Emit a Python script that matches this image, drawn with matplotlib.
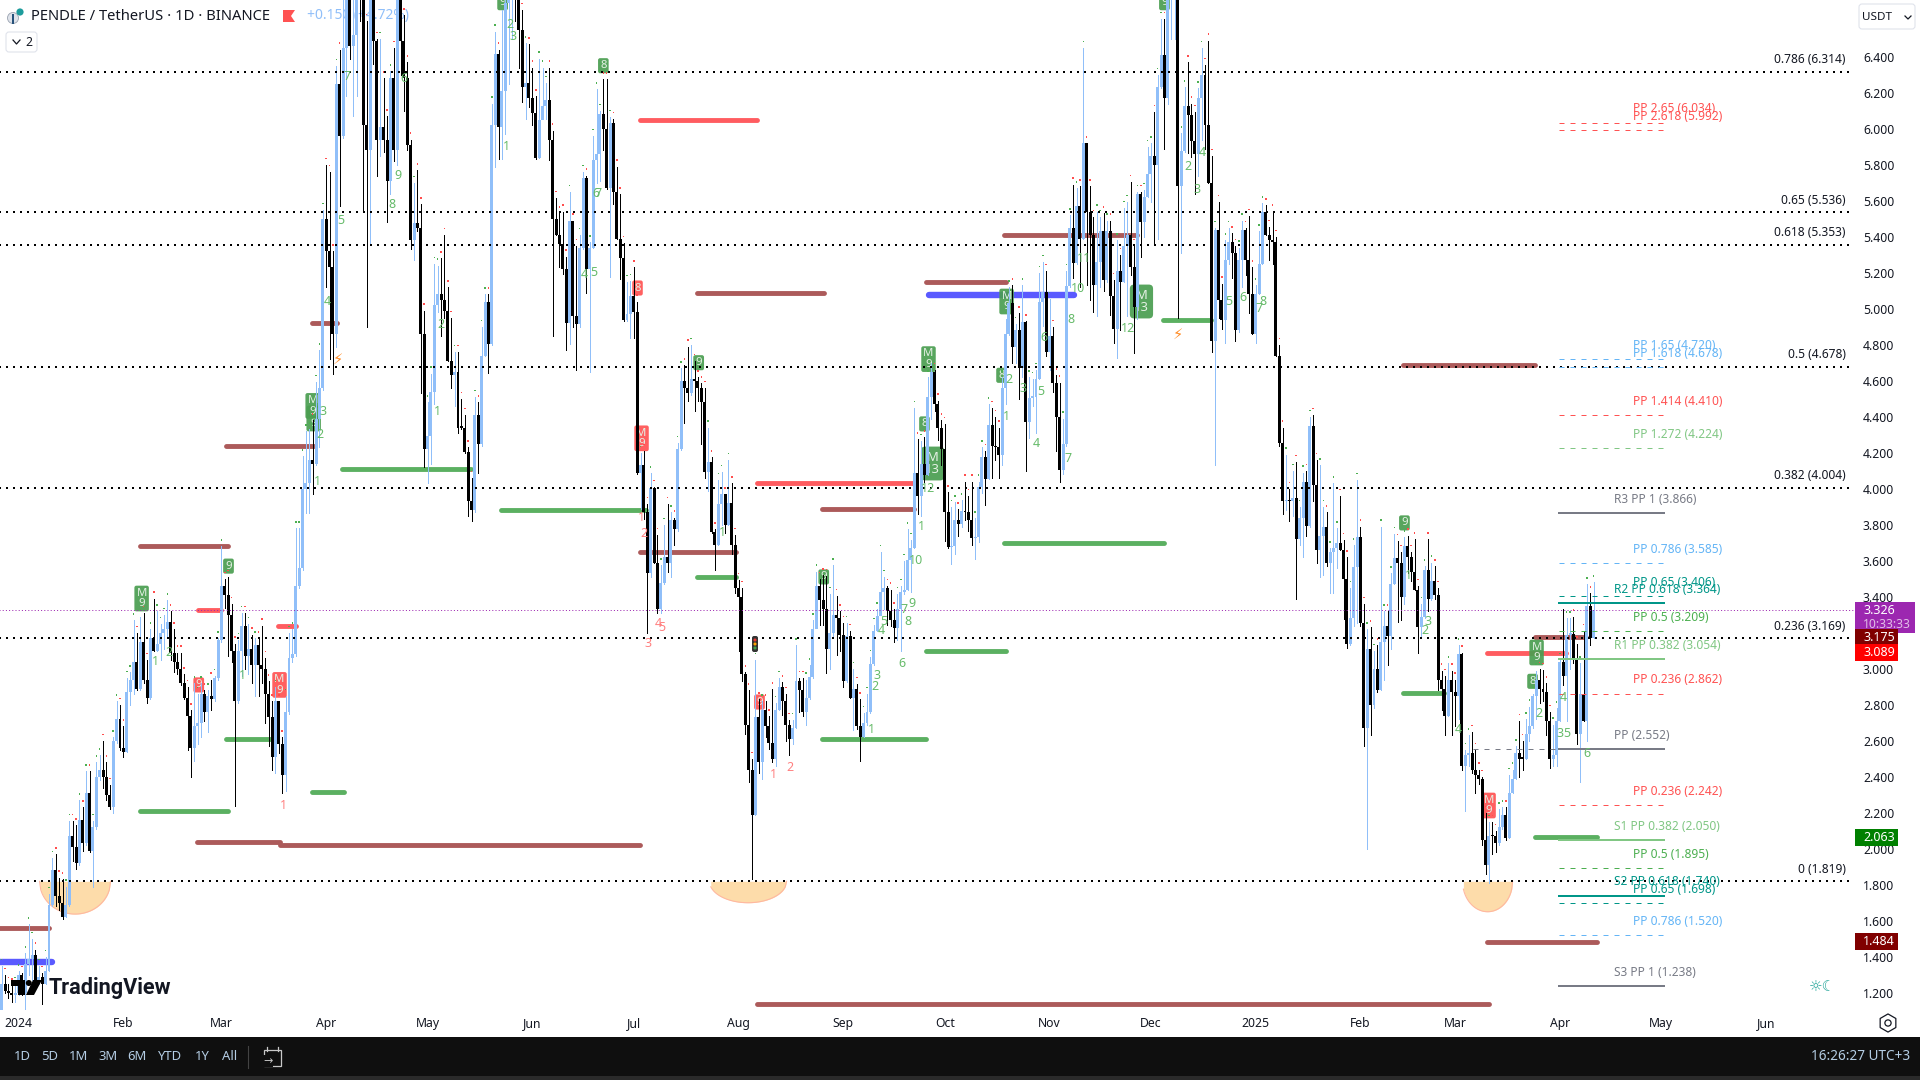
import numpy as np
import matplotlib
matplotlib.use("Agg")
import matplotlib.pyplot as plt
from matplotlib.patches import Rectangle, FancyBboxPatch, Polygon, Circle
from matplotlib.transforms import blended_transform_factory

plt.rcParams['font.family'] = ['Noto Sans', 'DejaVu Sans']

# Daily candles. Opens are the previous close.
close_jan_apr = [1.25,1.21,1.20,1.19,1.20,1.30,1.20,1.36,1.39,1.41,
    1.27,1.29,1.25,1.32,1.69,1.88,1.74,1.70,1.62,1.69,
    2.07,2.01,1.92,2.16,2.03,2.31,1.99,2.12,2.40,2.44,
    2.40,2.30,2.23,2.60,2.72,2.56,2.54,2.87,2.94,3.04,
    2.89,3.15,2.94,2.84,3.17,3.10,3.14,3.20,3.22,3.26,
    3.09,3.04,3.00,2.92,2.84,2.74,2.56,2.68,2.70,2.86,
    2.76,2.85,2.83,2.95,3.16,3.46,3.41,3.30,3.10,2.82,
    3.10,3.24,3.07,3.11,3.02,3.13,3.02,3.00,2.86,2.73,
    2.51,2.82,2.58,2.41,2.76,3.06,3.08,3.46,3.56,4.00,
    4.03,4.16,4.135,4.39]
high_jan_apr = [1.35,1.30,1.25,1.24,1.25,1.32,1.31,1.42,1.58,1.50,
    1.44,1.35,1.31,1.40,1.75,1.95,1.97,1.84,1.83,1.79,
    2.155,2.155,2.13,2.27,2.23,2.43,2.43,2.155,2.48,2.52,
    2.60,2.48,2.355,2.62,2.82,2.80,2.68,2.95,2.98,3.27,
    3.20,3.29,3.31,3.05,3.22,3.39,3.32,3.25,3.30,3.38,
    3.32,3.22,3.09,3.09,2.97,2.90,2.77,2.92,2.86,2.92,
    2.88,2.88,2.94,2.96,3.17,3.68,3.50,3.51,3.36,3.14,
    3.16,3.31,3.31,3.25,3.19,3.17,3.17,3.24,3.06,2.93,
    2.82,2.90,2.82,2.62,2.85,3.20,3.22,3.78,3.78,4.18,
    4.32,4.33,4.38,4.595]
low_jan_apr = [1.10,1.20,1.17,1.15,1.15,1.19,1.19,1.11,1.30,1.27,
    1.26,1.25,1.14,1.25,1.32,1.68,1.68,1.66,1.61,1.62,
    1.68,1.93,1.89,1.91,1.99,2.02,1.98,1.79,2.11,2.38,
    2.34,2.27,2.22,2.20,2.59,2.55,2.51,2.54,2.80,2.86,
    2.88,2.88,2.92,2.81,2.83,3.10,3.10,3.05,3.11,3.17,
    3.05,2.98,2.97,2.91,2.83,2.55,2.40,2.49,2.58,2.62,
    2.71,2.65,2.77,2.82,2.94,3.15,3.34,3.07,3.04,2.24,
    2.81,2.96,3.00,2.97,2.92,2.85,2.85,2.92,2.70,2.57,
    2.44,2.42,2.53,2.31,2.32,2.75,3.04,3.07,3.45,3.55,
    3.865,3.865,3.97,4.13]

close_apr_jul = [4.56,5.50,5.32,5.23,4.86,6.25,5.96,6.45,6.85,6.46,
    6.52,6.90,6.80,6.02,5.88,6.90,6.49,5.94,6.01,5.94,
    5.71,6.28,5.88,6.90,6.49,6.28,5.91,5.38,5.475,5.45,
    4.86,4.22,4.295,4.54,5.02,5.08,5.05,4.99,4.71,4.63,
    4.65,4.34,4.34,4.205,3.93,3.88,4.41,4.25,4.735,5.035,
    4.805,6.02,6.415,6.01,6.21,6.70,6.85,6.95,6.80,6.55,
    6.23,6.255,6.17,6.09,5.84,6.05,6.125,6.16,5.935,5.50,
    5.41,5.36,5.22,4.92,5.49,4.96,4.915,5.34,5.725,5.22,
    5.34,5.825,5.86,6.08,6.00,5.67,6.03,5.65,5.385,5.28,
    4.94,4.97,5.07,4.98,4.09]
high_apr_jul = [4.77,5.55,5.80,5.76,5.32,6.35,6.44,6.72,7.0,6.95,
    6.9,7.0,7.0,6.85,6.60,7.1,7.0,6.50,6.50,6.28,
    6.07,6.32,6.45,7.1,6.72,6.63,6.37,5.94,5.70,5.77,
    5.58,4.99,4.48,4.64,5.25,5.24,5.28,5.41,5.12,4.95,
    4.76,4.76,4.50,4.41,4.23,4.06,4.51,4.48,4.90,5.08,
    5.08,6.14,6.54,6.44,6.66,6.78,7.0,7.1,7.1,6.95,
    6.66,6.475,6.47,6.34,6.18,6.39,6.34,6.255,6.34,5.99,
    5.615,5.53,5.54,5.29,5.65,5.49,5.35,5.41,5.76,5.74,
    5.37,5.96,6.22,6.10,6.275,6.275,6.065,6.055,5.79,5.635,
    5.365,5.15,5.155,5.23,5.04]
low_apr_jul = [4.23,4.55,5.12,4.72,4.64,4.79,5.57,5.95,6.18,6.39,
    6.07,6.18,6.6,5.54,4.90,5.36,6.36,5.74,5.85,5.87,
    5.48,5.64,5.82,5.80,6.3,6.10,5.88,5.33,5.27,5.43,
    4.53,4.12,4.03,4.14,4.47,4.98,4.85,4.95,4.71,4.56,
    4.46,4.31,4.33,4.20,3.85,3.82,3.87,4.09,4.24,4.735,
    4.645,4.80,5.79,5.83,5.83,5.97,6.25,6.5,6.6,6.34,
    6.15,6.055,6.12,6.02,5.83,5.835,6.055,6.055,5.825,4.85,
    5.41,5.23,5.195,4.77,4.805,4.90,4.66,4.90,5.33,5.085,
    4.65,5.34,5.70,5.71,5.88,5.665,5.175,5.58,5.385,5.165,
    4.93,4.93,4.84,4.84,4.08]

close_jul_oct = [4.13,3.87,3.53,4.005,3.59,3.33,3.475,3.62,3.59,3.825,
    3.775,4.22,4.60,4.56,4.53,4.61,4.60,4.56,4.48,4.095,
    4.15,3.76,3.69,3.915,3.97,3.80,3.92,3.685,3.45,3.40,
    2.97,2.69,2.44,2.19,2.73,2.48,2.77,2.68,2.59,2.50,
    2.77,2.90,2.82,2.69,2.61,2.67,2.93,2.88,2.76,2.835,
    2.955,3.22,3.46,3.38,3.33,3.11,3.20,3.30,3.28,3.19,
    2.93,3.18,2.84,2.89,2.68,2.62,2.70,2.76,3.025,3.21,
    3.295,3.425,3.45,3.32,3.27,3.225,3.33,3.425,3.44,3.605,
    3.67,4.09,3.96,4.14,4.075,4.51,4.65,4.47,4.34]
high_jul_oct = [4.20,4.21,3.915,4.085,4.01,3.745,3.575,3.80,3.915,3.87,
    3.84,4.255,4.67,4.685,4.79,4.80,4.71,4.62,4.585,4.56,
    4.34,4.175,3.775,4.05,4.095,3.97,4.16,4.03,3.745,3.495,
    3.45,2.98,2.88,2.50,3.05,2.83,2.82,2.82,2.735,2.885,
    2.81,2.95,2.925,2.86,2.715,2.715,3.13,2.95,2.95,2.94,
    3.02,3.27,3.54,3.50,3.52,3.515,3.415,3.575,3.405,3.32,
    3.255,3.255,3.21,3.00,2.915,2.83,2.755,2.86,3.065,3.245,
    3.33,3.65,3.51,3.46,3.44,3.33,3.415,3.46,3.60,3.775,
    3.715,4.45,4.275,4.265,4.285,4.62,4.70,4.66,4.49]
low_jul_oct = [3.89,3.83,3.20,3.51,3.585,3.31,3.31,3.47,3.54,3.51,
    3.69,3.765,4.215,4.365,4.49,4.52,4.43,4.49,4.25,4.06,
    3.99,3.755,3.55,3.69,3.80,3.755,3.80,3.64,3.42,3.10,
    2.93,2.64,2.37,1.83,2.19,2.42,2.385,2.62,2.555,2.48,
    2.46,2.77,2.745,2.60,2.52,2.58,2.67,2.76,2.735,2.685,
    2.83,2.95,3.245,3.245,3.245,2.975,3.00,3.17,3.075,3.10,
    2.90,2.925,2.835,2.66,2.665,2.485,2.62,2.69,2.755,3.02,
    3.21,3.30,3.33,3.245,3.235,3.15,3.16,3.10,3.415,3.435,
    3.425,3.67,3.86,3.85,4.04,4.075,4.39,4.43,4.27]

close_oct_nov = [4.22,3.87,3.675,3.68,3.825,3.805,3.875,3.87,3.825,3.725,
    3.73,4.01,4.175,4.055,4.355,4.235,4.23,4.19,4.56,4.86,
    5.03,4.79,4.88,4.67,4.925,4.37,4.505,4.51,4.61,5.035,
    5.095,4.76,4.85,4.585,4.40,4.105,4.25,5.125]
high_oct_nov = [4.38,4.36,3.98,3.90,3.925,3.885,3.935,4.04,3.96,4.04,
    3.835,4.04,4.23,4.21,4.47,4.45,4.40,4.34,4.62,4.945,
    5.12,5.13,4.915,4.975,5.13,4.93,4.62,4.61,4.66,5.20,
    5.26,5.21,5.055,4.90,4.63,4.59,4.39,5.21]
low_oct_nov = [4.13,3.71,3.67,3.58,3.635,3.74,3.785,3.825,3.765,3.685,
    3.61,3.705,3.975,3.91,4.055,4.06,4.16,4.06,4.13,4.47,
    4.855,4.70,4.70,4.50,4.62,4.10,4.28,4.46,4.31,4.61,
    4.905,4.74,4.66,4.54,4.21,4.04,4.08,4.24]

close_nov_jan = [5.45,5.255,5.57,5.39,5.92,5.54,5.41,5.13,5.26,5.43,
    5.16,5.43,5.07,4.89,5.21,5.15,5.35,5.41,5.23,5.01,
    5.635,5.48,5.62,5.75,5.85,5.80,6.23,6.41,6.17,6.85,
    6.95,7.05,5.68,5.875,6.125,6.075,5.93,5.86,6.17,6.30,
    6.02,5.70,4.82,5.44,5.05,4.94,5.27,5.37,5.31,4.88,
    5.27,5.44,5.27,5.08,4.86,5.08,5.25,5.54,5.41,5.38,
    5.37,4.74,4.256]
high_nov_jan = [5.52,5.69,5.67,5.68,6.45,5.92,5.68,5.51,5.54,5.51,
    5.53,5.49,5.49,5.16,5.38,5.30,5.56,5.595,5.705,5.35,
    5.65,5.65,5.66,5.90,5.92,6.095,6.30,6.61,6.61,7.0,
    7.15,7.2,7.2,5.975,6.23,6.37,6.14,6.095,6.225,6.45,
    6.355,6.49,5.85,5.45,5.595,5.14,5.38,5.45,5.42,5.35,
    5.34,5.49,5.45,5.515,5.23,5.13,5.43,5.585,5.575,5.455,
    5.54,5.40,4.80]
low_nov_jan = [5.12,5.17,5.25,5.12,5.39,5.13,5.05,4.98,4.96,5.12,
    5.10,5.15,4.965,4.81,4.725,4.88,5.15,4.96,5.19,4.755,
    4.945,5.29,5.40,5.62,5.595,5.36,5.39,6.225,5.89,6.14,
    6.5,6.5,4.95,5.31,5.87,5.865,5.845,5.64,5.735,5.94,
    5.89,5.70,4.76,4.13,4.95,4.89,4.81,5.25,5.17,4.82,
    4.87,5.12,5.19,4.975,4.86,4.81,5.08,5.25,5.41,5.27,
    5.25,4.74,4.24]

close_jan_apr25 = [3.93,3.94,3.93,3.95,3.72,3.835,4.04,3.795,4.35,4.02,
    3.66,3.74,3.79,3.59,3.65,3.67,3.70,3.66,3.50,3.14,
    3.28,3.565,3.73,3.255,2.67,3.11,2.80,3.00,2.88,3.15,
    3.24,3.18,3.47,3.615,3.59,3.40,3.68,3.62,3.54,3.44,
    3.23,3.29,3.55,3.39,3.49,3.41,2.94,2.89,2.74,2.94,
    2.87,2.85,3.08,2.46,2.52,2.53,2.44,2.41,2.39,2.05,
    1.91,2.07,2.07,2.03,2.12,2.19,2.06,2.31,2.39,2.53,
    2.50,2.50,2.64,2.68,2.85,2.94,2.89,2.87,2.71,2.50,
    2.52,2.71,3.04,2.96,3.19,3.195,3.06,2.64,2.86,2.71,
    3.35,3.17,3.326]
high_jan_apr25 = [4.34,4.19,4.00,4.10,4.15,3.90,4.09,4.10,4.40,4.41,
    4.16,4.13,3.90,3.87,3.67,4.03,3.78,3.96,3.715,3.62,
    3.45,3.685,4.05,3.79,3.36,3.22,3.23,3.10,3.13,3.79,
    3.32,3.32,3.53,3.75,3.71,3.65,3.73,3.74,3.65,3.72,
    3.46,3.36,3.57,3.72,3.59,3.57,3.45,2.99,2.96,3.03,
    2.99,2.94,3.13,3.09,2.55,2.63,2.65,2.55,2.44,2.40,
    2.20,2.15,2.15,2.10,2.22,2.23,2.23,2.41,2.44,2.57,
    2.71,2.60,2.72,2.79,2.86,2.99,3.00,2.995,2.92,2.76,
    2.69,2.78,3.05,3.33,3.28,3.28,3.29,3.14,3.03,3.21,
    3.47,3.42,3.48]
low_jan_apr25 = [3.86,3.88,3.82,3.85,3.39,3.69,3.62,3.74,3.79,3.93,
    3.59,3.51,3.52,3.57,3.42,3.42,3.56,3.66,3.275,3.115,
    3.13,3.24,3.255,3.236,2.57,2.00,2.63,2.78,2.87,2.88,
    2.94,3.02,3.11,3.47,3.26,3.27,3.36,3.53,3.49,3.44,
    3.09,3.18,3.28,3.32,3.38,3.39,2.88,2.77,2.63,2.74,
    2.63,2.68,2.72,2.44,2.21,2.46,2.42,2.31,2.36,2.02,
    1.86,1.81,1.97,1.98,2.02,2.11,2.05,2.06,2.31,2.39,
    2.40,2.44,2.50,2.60,2.67,2.72,2.81,2.82,2.63,2.45,
    2.46,2.46,2.71,2.91,2.71,3.00,3.03,2.58,2.37,2.71,
    2.60,3.13,3.17]

# Fibonacci levels (dotted) and pivots
fib_names = ["0.786", "0.65", "0.618", "0.5", "0.382", "0.236", "0"]
fib_prices = [6.314, 5.536, 5.353, 4.678, 4.004, 3.169, 1.819]

pivot_names = ["PP 2.65", "PP 2.618", "PP 1.65", "PP 1.618", "PP 1.414", "PP 1.272", "R3 PP 1",
               "PP 0.786", "PP 0.65", "R2 PP 0.618", "PP 0.5", "R1 PP 0.382", "PP 0.236", "PP",
               "PP 0.236", "S1 PP 0.382", "PP 0.5", "S2 PP 0.618", "PP 0.65", "PP 0.786", "S3 PP 1"]
pivot_prices = [6.034, 5.992, 4.720, 4.678, 4.410, 4.224, 3.866, 3.585, 3.406, 3.364, 3.209,
                3.054, 2.862, 2.552, 2.242, 2.050, 1.895, 1.740, 1.698, 1.520, 1.238]
pivot_colors = ["#ff5252", "#ff5252", "#64b5f6", "#64b5f6", "#ff5252", "#81c784", "#787b86",
                "#64b5f6", "#009688", "#009688", "#4caf50", "#81c784", "#ff5252", "#787b86",
                "#ff5252", "#81c784", "#4caf50", "#009688", "#009688", "#64b5f6", "#787b86"]

# Thick level segments: start day, end day, price
maroon_start = [-6, 52.7, 77.2, 35.8, 61.5, 86.7, 218.6, 183.7, 200.6, 237.6, 268.6, 291.4, 409.5, 448.5, 434.3]
maroon_end = [8.9, 77.2, 183.7, 62.1, 87.3, 94.1, 434.9, 212.1, 238.2, 264.8, 292, 330.8, 448.5, 463.6, 466.9]
maroon_price = [1.56, 2.035, 2.02, 3.68, 4.24, 4.92, 1.135, 3.65, 5.09, 3.89, 5.15, 5.41, 4.69, 3.175, 1.484]
green_start = [35.8, 61.5, 86.7, 95.6, 142.6, 200.6, 237.6, 268.6, 291.4, 338.5, 409.5, 448.5]
green_end = [62.1, 75.1, 96.2, 133.7, 185.5, 212.1, 268.6, 292, 338.8, 352.7, 421.6, 466.9]
green_price = [2.21, 2.61, 2.315, 4.11, 3.88, 3.51, 2.61, 3.10, 3.70, 4.94, 2.865, 2.063]
red_start = [183.7, 218.6, 53, 76.6, 434.3]
red_end = [218.6, 264.8, 59.8, 82, 457.7]
red_price = [6.05, 4.03, 3.325, 3.24, 3.089]
blue_start = [-6, 269.2]
blue_end = [10, 312.1]
blue_price = [1.37, 5.075]

# Signal flags
flag_text = ["M\n9", "9", "M\n9", "M\n9", "8", "9", "9", "9", "M\n9", "8", "M\n13", "M\n9", "8", "M\n13", "9", "9", "M\n9", "8"]
flag_day = [36.4, 62.1, 87.3, 87.0, 173, 143.2, 201.2, 238.2, 269.2, 268, 270.4, 292.3, 290.8, 332.2, 339, 410, 449.1, 447.9]
flag_price = [3.39, 3.57, 4.39, 4.46, 6.35, 6.70, 4.70, 3.51, 4.72, 4.36, 4.14, 5.04, 4.63, 5.04, 6.70, 3.81, 3.09, 2.93]
flag_red_text = ["9", "M\n9", "8", "M\n9", "9", "M\n9"]
flag_red_day = [53.3, 77.2, 183.1, 184.3, 219.2, 434.9]
flag_red_price = [2.91, 2.91, 5.115, 4.28, 2.815, 2.24]

# Small sequence counters
seq_text = ["1","2","1","1","2","3","4","5","7","8","9","6","2","1","2","3","1","4","5","6","7","1","1","2","3",
            "4","5","6","7","8","9","10","1","12","1","2","3","4","5","6","7","8","10","11","12","2","3","4","5",
            "6","7","8","1","2","3","4","2","4","3","5","6"]
seq_day = [40.5,44.4,66.3,88.5,89.3,90.2,91.4,95.3,97.3,110.4,112.1,113.9,124.9,124,145.3,146.2,144.4,167.5,170.1,
           170.7,171.3,208.3,252.4,253.3,254.1,255.3,255.9,261.2,262.1,263,264.2,265.4,267.2,269.2,292.3,292.9,
           297.3,301.2,302.4,303.3,310.4,311.2,313.3,315.1,328.1,345.9,348.8,350.3,358,362.1,366.9,368,411.2,416,
           416.9,426,449.7,457.1,455.9,458,463.9]
seq_price = [3.04,3.09,2.96,4.04,4.30,4.43,5.04,5.49,6.29,5.58,5.74,6.28,4.915,4.43,6.58,6.51,5.90,5.19,5.20,
             5.64,5.64,3.755,2.665,2.90,2.965,3.215,3.265,3.03,3.33,3.265,3.36,3.60,3.79,4.00,4.40,4.605,
             4.555,4.25,4.54,4.84,4.17,4.94,5.11,5.28,4.89,5.79,5.66,5.87,5.04,5.06,5.00,5.04,3.52,3.21,
             3.26,2.66,2.75,2.84,2.64,2.64,2.53]
seq_red_text = ["1", "1", "2", "3", "4", "5", "1", "2"]
seq_red_day = [78.4, 184.3, 184.9, 186.1, 189.3, 190.2, 223.4, 228.1]
seq_red_price = [2.24, 3.84, 3.75, 3.14, 3.25, 3.23, 2.41, 2.45]

# Peach half bowls under the 0 level: start day, end day, deepest price
bowl_start = [6.2, 204.4, 427.2]
bowl_end = [27.2, 227.2, 442]
bowl_price = [1.637, 1.70, 1.65]

month_days = [0, 31, 60, 91, 121, 152, 182, 213, 244, 274, 305, 335, 366, 397, 425, 456, 486, 517]
month_names = ["2024", "Feb", "Mar", "Apr", "May", "Jun", "Jul", "Aug", "Sep", "Oct", "Nov", "Dec",
               "2025", "Feb", "Mar", "Apr", "May", "Jun"]
price_ticks = [1.2, 1.4, 1.6, 1.8, 2.0, 2.2, 2.4, 2.6, 2.8, 3.0, 3.2, 3.4, 3.6, 3.8, 4.0, 4.2, 4.4, 4.6,
               4.8, 5.0, 5.2, 5.4, 5.6, 5.8, 6.0, 6.2, 6.4]
tag_prices = [3.175, 3.089, 2.063, 1.484]
tag_colors = ["#800000", "#ff0000", "#008000", "#800000"]
range_names = ["1D", "5D", "1M", "3M", "6M", "YTD", "1Y", "All"]
range_x = [22, 50, 79, 108, 137, 170, 202, 230]

UP = "#90bff9"
DOWN = "#000000"
TEXT = "#131722"


def thick_segments(ax, starts, ends, prices, color, width):
    for a, b, p in zip(starts, ends, prices):
        ax.plot([a, b], [p, p], color=color, lw=width, solid_capstyle="round", zorder=2)


def draw_flags(ax, texts, days, prices, color):
    # the flags sit under the candles, as on the chart
    for t, d, p in zip(texts, days, prices):
        big = "13" in t
        ax.text(d, p, t, ha="center", va="center", fontsize=9.4 if big else 8.2, linespacing=0.95,
                color="#e4f0e4", zorder=2.5, clip_on=True,
                bbox=dict(boxstyle="round,pad=0.32" if big else "round,pad=0.18", fc=color, ec="none", alpha=0.92))


closes = np.array(close_jan_apr + close_apr_jul + close_jul_oct + close_oct_nov + close_nov_jan + close_jan_apr25)
highs = np.array(high_jan_apr + high_apr_jul + high_jul_oct + high_oct_nov + high_nov_jan + high_jan_apr25)
lows = np.array(low_jan_apr + low_apr_jul + low_jul_oct + low_oct_nov + low_nov_jan + low_jan_apr25)
opens = np.concatenate([[lows[0]], closes[:-1]])
days = np.arange(len(closes)) - 5
up = closes > opens
colors = [UP if u else DOWN for u in up]

fig = plt.figure(figsize=(19.2, 10.8), dpi=100)
ax = fig.add_axes([0, 70 / 1080, 1856 / 1920, 1010 / 1080])
ax.set_xlim(-5.5, 543.6)
ax.set_ylim(1.104, 6.715)
for s in ax.spines.values():
    s.set_visible(False)

# text under the candles in the header
ax.text(307 / 1856, 1 - 16 / 1010, "+0.150 (+4.72%)", transform=ax.transAxes, color=UP, fontsize=10,
        va="center", ha="left", zorder=0.5)

for s, e, p in zip(bowl_start, bowl_end, bowl_price):
    xs = np.linspace(s, e, 60)
    u = (xs - (s + e) / 2) / ((e - s) / 2)
    ys = 1.819 - (1.819 - p) * np.sqrt(1 - u * u)
    ax.fill_between(xs, ys, 1.819, color="#fddcaa", lw=0, zorder=1)
    ax.plot(xs, ys, color="#ffb8a0", lw=0.8, zorder=1)

thick_segments(ax, maroon_start, maroon_end, maroon_price, "#ac5a5a", 3.5)
thick_segments(ax, green_start, green_end, green_price, "#5bb061", 3.5)
thick_segments(ax, red_start, red_end, red_price, "#ff5c60", 3.5)
thick_segments(ax, blue_start, blue_end, blue_price, "#5a5aff", 4.6)

ax.vlines(days, lows, highs, colors=colors, lw=0.68, antialiased=False, zorder=3)
ax.bar(days, np.maximum(np.abs(closes - opens), 0.008), bottom=np.minimum(opens, closes), width=0.88,
       color=colors, lw=0, zorder=3)
ax.scatter(days, highs + 0.035, s=1.2, marker="s", lw=0,
           c=["#4caf50" if u else "#ff4d4d" for u in up], zorder=3)

for p in fib_prices:
    ax.plot([-6, 541.8], [p, p], color="black", lw=1.44, ls=(0, (1, 2.5)), zorder=4)
for n, p in zip(fib_names, fib_prices):
    ax.annotate(f"{n} ({p:.3f})", (540.6, p), xytext=(0, 8.8), textcoords="offset points", ha="right",
                va="center", fontsize=8.6, color=TEXT, zorder=7)

ax.plot([-6, 543.6], [closes[-1], closes[-1]], color="#9c27b0", lw=0.72, ls=(0, (1, 2.2)), zorder=4)

for n, p, c in zip(pivot_names, pivot_prices, pivot_colors):
    solid = n[0] in "RS" or n == "PP"
    ax.plot([455.8, 486.8], [p, p], color=c, lw=1.44 if solid else 0.72,
            ls="-" if solid else (0, (5, 6)), zorder=4)
    label_day = 471.9 if solid else 477.5
    ax.annotate(f"{n} ({p:.3f})", (label_day, p), xytext=(0, 9.8), textcoords="offset points", ha="left",
                va="center", fontsize=8.6, color=c, zorder=7)
ax.plot([430.2, 455.8], [2.552, 2.552], color="#787b86", lw=0.72, ls=(0, (5, 6)), zorder=4)

draw_flags(ax, flag_text, flag_day, flag_price, "#4a9e50")
draw_flags(ax, flag_red_text, flag_red_day, flag_red_price, "#ff5252")
for t, d, p in zip(seq_text, seq_day, seq_price):
    ax.text(d, p, t, ha="center", va="center", fontsize=9, color="#66bb6a", zorder=6)
for t, d, p in zip(seq_red_text, seq_red_day, seq_red_price):
    ax.text(d, p, t, ha="center", va="center", fontsize=9, color="#ff8080", zorder=6)

ax.text(94.6, 4.72, "\u26a1", family="DejaVu Sans", fontsize=10.5, color="#ff8c26", ha="center", va="center", zorder=6)
ax.text(343, 4.86, "\u26a1", family="DejaVu Sans", fontsize=10.5, color="#ff8c26", ha="center", va="center", zorder=6)

ax.yaxis.tick_right()
ax.set_yticks(price_ticks)
ax.set_yticklabels([f"{t:.3f}" for t in price_ticks])
ax.tick_params(axis="y", length=0, pad=5, labelsize=8.8, labelcolor=TEXT)
for lab in ax.get_yticklabels():
    lab.set_verticalalignment("center_baseline")
ax.set_xticks(month_days)
ax.set_xticklabels(month_names)
ax.tick_params(axis="x", length=0, pad=5, labelsize=8.8, labelcolor=TEXT)
for lab, name in zip(ax.get_xticklabels(), month_names):
    if name.startswith("20"):
        lab.set_fontweight("bold")

# Overlay in pixels for the TradingView chrome
top = fig.add_axes([0, 0, 1, 1], zorder=5)
top.set_xlim(0, 1920)
top.set_ylim(1080, 0)
top.axis("off")
top.patch.set_alpha(0)

top.add_patch(Rectangle((0, 1037), 1920, 39, color="#0f0f0f", lw=0))
top.add_patch(Rectangle((0, 1076), 1920, 4, color="#2a2a2a", lw=0))
for n, x in zip(range_names, range_x):
    top.text(x, 1057, n, color="#b4cde4", fontsize=9.4, ha="center", va="center")
top.plot([248, 248], [1046, 1068], color="#434343", lw=0.8)
top.add_patch(Rectangle((264, 1050), 17, 16, fill=False, ec="#c8c8c8", lw=0.9))
top.plot([267, 267], [1047, 1051], color="#c8c8c8", lw=0.9)
top.plot([278, 278], [1047, 1051], color="#c8c8c8", lw=0.9)
top.text(268, 1061, "\u2192", family="DejaVu Sans", color="#c8c8c8", fontsize=8, ha="center", va="center",
         bbox=dict(fc="#0f0f0f", ec="none", pad=0.6))
top.text(1910, 1057, "16:26:27 UTC+3", color="#b4cde4", fontsize=9.8, ha="right", va="center")

# header
top.add_patch(Circle((13, 18), 5.5, fc="#dfe3ea", ec="#9aa3b0", lw=0.6))
top.add_patch(Rectangle((12, 14), 2, 10, color="#27527a", lw=0))
top.add_patch(Circle((20, 12), 3.6, fc="#1d9c9c", ec="none"))
top.text(31, 16.5, "PENDLE / TetherUS \u00b7 1D \u00b7 BINANCE", color=TEXT, fontsize=10.65, va="center", ha="left")
top.add_patch(Polygon([(283, 10), (295, 10), (291, 16), (295, 22), (283, 22)], color="#ff5252", lw=0))
top.add_patch(FancyBboxPatch((6, 32), 31, 20, boxstyle="round,pad=0,rounding_size=3", fc="white", ec="#e0e3eb", lw=0.8))
top.plot([13, 16.5, 20], [40, 44, 40], color=TEXT, lw=0.9)
top.text(25, 42, "2", color=TEXT, fontsize=8.8, va="center", ha="left")

top.add_patch(FancyBboxPatch((1859, 4), 56, 25, boxstyle="round,pad=0,rounding_size=3", fc="white", ec="#e0e3eb", lw=0.8))
top.text(1862, 17, "USDT", color=TEXT, fontsize=8.4, va="center", ha="left")
top.plot([1905, 1908, 1911], [16, 19, 16], color=TEXT, lw=0.9)

# price tags follow the price scale
tag_tr = blended_transform_factory(top.transData, ax.transData)
px = 1 / 180
top.add_patch(Rectangle((1855, closes[-1] - 22.5 * px), 60, 31 * px, transform=tag_tr, color="#9c27b0", lw=0))
top.text(1863, closes[-1], f"{closes[-1]:.3f}", transform=tag_tr, color="white", fontsize=9, fontweight="bold",
         va="center", ha="left")
top.text(1863, closes[-1] - 14.5 * px, "10:33:33", transform=tag_tr, color="#e1bee7", fontsize=8.8, va="center", ha="left")
for p, c in zip(tag_prices, tag_colors):
    top.add_patch(Rectangle((1855, p - 8.5 * px), 43, 17 * px, transform=tag_tr, color=c, lw=0))
    top.text(1863, p, f"{p:.3f}", transform=tag_tr, color="white", fontsize=9, fontweight="bold", va="center", ha="left")

# logo
top.add_patch(Polygon([(11, 980), (25, 980), (25, 995), (18, 995), (18, 986), (11, 986)], color="black", lw=0))
top.add_patch(Circle((28.8, 983), 3, color="black", lw=0))
top.add_patch(Polygon([(33, 980), (42, 980), (34, 995), (26, 995)], color="black", lw=0))
top.text(49, 988, "TradingView", family="Roboto", fontweight="bold", fontsize=15.6, color="#131722", va="center", ha="left")

# traffic light, theme and settings icons
top.add_patch(FancyBboxPatch((752, 636), 6, 16, boxstyle="round,pad=0,rounding_size=2", fc="#333333", ec="none"))
top.scatter([755, 755, 755], [640, 644, 648], s=5, c=["#e53935", "#ffa000", "#43a047"], lw=0)
top.text(1822, 986, "\u263c\u263e", family="DejaVu Sans", color="#26a69a", fontsize=11, ha="center", va="center")
top.scatter([1888], [1023], s=170, marker="h", facecolors="none", edgecolors="#131722", lw=0.9)
top.scatter([1888], [1023], s=20, marker="o", facecolors="none", edgecolors="#131722", lw=0.9)

fig.savefig("out.png", dpi=100)
